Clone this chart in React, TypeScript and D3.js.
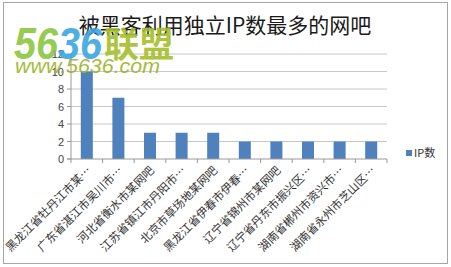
import React from "react";
import * as d3 from "d3";

const title = "被黑客利用独立IP数最多的网吧";
const categories = [
  "黑龙江省牡丹江市某…",
  "广东省湛江市吴川市…",
  "河北省衡水市某网吧",
  "江苏省镇江市丹阳市…",
  "北京市草场地某网吧",
  "黑龙江省伊春市伊春…",
  "辽宁省锦州市某网吧",
  "辽宁省丹东市振兴区…",
  "湖南省郴州市资兴市…",
  "湖南省永州市芝山区…",
];
const values = [10, 7, 3, 3, 3, 2, 2, 2, 2, 2];
const yTicks = [0, 2, 4, 6, 8, 10, 12];
const seriesName = "IP数";

const W = 451;
const H = 267;
const left = 71;
const right = 387;
const top = 54;
const bottom = 159;

export default function App() {
  const x = d3.scaleBand<string>().domain(categories).range([left, right]).paddingInner(0.62).paddingOuter(0.31);
  const xb = d3.scaleBand<string>().domain(categories).range([left, right]);
  const y = d3.scaleLinear().domain([0, 12]).range([bottom, top]);
  const font = "'Noto Sans CJK SC', sans-serif";
  return (
    <svg width={W} height={H} style={{ position: "absolute", left: 0, top: 0 }}>
      <rect x={0} y={0} width={W} height={H} fill="#fff" />
      <rect x={3.5} y={2.5} width={444} height={261} fill="none" stroke="#a6a6a6" strokeWidth={1} />
      <text x={225} y={33} textAnchor="middle" fontFamily={font} fontSize={21} fill="#1a1a1a">{title}</text>
      {yTicks.map((t) => (
        <g key={t}>
          {t > 0 && <line x1={left} x2={right} y1={y(t)} y2={y(t)} stroke="#c8c8c8" />}
          <text x={64} y={y(t) + 4} textAnchor="end" fontFamily="Arial, sans-serif" fontSize={11} fill="#444">{t}</text>
        </g>
      ))}
      {categories.map((c, i) => (
        <rect key={c} x={x(c)} y={y(values[i])} width={x.bandwidth()} height={bottom - y(values[i])} fill="#4f81bd" />
      ))}
      <line x1={left} x2={left} y1={top} y2={bottom} stroke="#999" />
      <line x1={left - 4} x2={right} y1={bottom} y2={bottom} stroke="#999" />
      {yTicks.map((t) => (
        <line key={"yt" + t} x1={left - 4} x2={left} y1={y(t)} y2={y(t)} stroke="#999" />
      ))}
      {categories.map((c) => (
        <line key={"t" + c} x1={(xb(c) as number) + xb.bandwidth()} x2={(xb(c) as number) + xb.bandwidth()} y1={bottom} y2={bottom + 4} stroke="#999" />
      ))}
      <line x1={left} x2={left} y1={bottom} y2={bottom + 4} stroke="#999" />
      {categories.map((c) => {
        const cx = (xb(c) as number) + xb.bandwidth() / 2 + 5;
        const cy = bottom + 12;
        return (
          <text key={"l" + c} transform={`translate(${cx},${cy}) rotate(-45)`} textAnchor="end" fontFamily={font} fontSize={11.5} fill="#333">{c}</text>
        );
      })}
      <rect x={406} y={150} width={6} height={6} fill="#4f81bd" />
      <text x={414} y={157} fontFamily={font} fontSize={11} fill="#333">{seriesName}</text>
      <g opacity={0.9}>
        <text x={14} y={59} fontFamily="Arial, sans-serif" fontWeight="bold" fontStyle="italic" fontSize={44} fill="#8cc63f" textLength={88} lengthAdjust="spacingAndGlyphs">
          56<tspan fill="#3aa7e0">36</tspan>
        </text>
        <text x={104} y={57} fontFamily={font} fontWeight="bold" fontSize={35} fill="#a5bf2a">联盟</text>
        <text x={15} y={73} fontFamily="Arial, sans-serif" fontStyle="italic" fontSize={21} fill="#9cb42a" textLength={145} lengthAdjust="spacingAndGlyphs">www.5636.com</text>
      </g>
    </svg>
  );
}
